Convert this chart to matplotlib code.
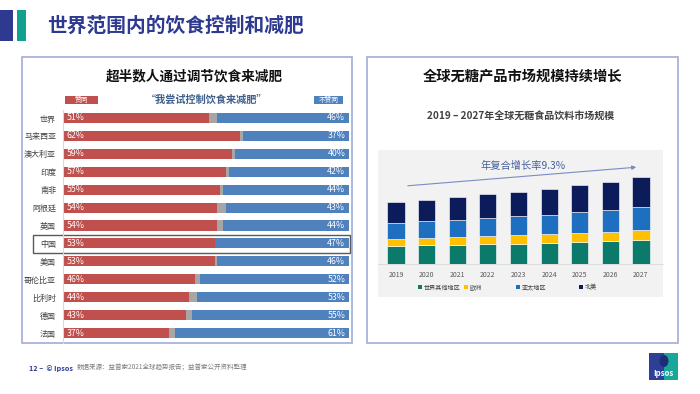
import matplotlib
matplotlib.use('Agg')
import matplotlib.pyplot as plt
from matplotlib.patches import Rectangle, FancyArrowPatch, Ellipse

plt.rcParams['font.family'] = ['Noto Sans CJK SC', 'DejaVu Sans']

# ---------------- data ----------------
countries = ['世界', '马来西亚', '澳大利亚', '印度', '南非', '阿根廷', '英国',
             '中国', '美国', '哥伦比亚', '比利时', '德国', '法国']
agree = [51, 62, 59, 57, 55, 54, 54, 53, 53, 46, 44, 43, 37]
disagree = [46, 37, 40, 42, 44, 43, 44, 47, 46, 52, 53, 55, 61]

years = ['2019', '2020', '2021', '2022', '2023', '2024', '2025', '2026', '2027']
rest_world = [18.0, 18.7, 19.3, 20.3, 20.5, 21.3, 22.0, 22.7, 23.7]
europe = [7.0, 7.0, 7.3, 7.7, 8.3, 8.3, 8.7, 9.3, 10.0]
asia_pac = [16.3, 17.3, 17.3, 18.3, 19.0, 19.7, 21.0, 22.0, 23.7]
north_am = [20.7, 21.0, 22.7, 23.7, 24.7, 25.7, 27.0, 28.3, 29.3]
region_names = ['世界其他地区', '欧洲', '亚太地区', '北美']

# ---------------- figure helpers ----------------
W, H = 700, 394
fig = plt.figure(figsize=(7, 3.94), dpi=100)
fig.patch.set_facecolor('white')

def fx(x):
    return x / W

def fy(y):
    return 1 - y / H

def rect(x0, y0, x1, y1, **kw):
    r = Rectangle((fx(x0), fy(y1)), (x1 - x0) / W, (y1 - y0) / H,
                  transform=fig.transFigure, **kw)
    fig.add_artist(r)
    return r

def text(x, y, s, **kw):
    return fig.text(fx(x), fy(y), s, **kw)

# ---------------- header ----------------
rect(0, 10, 13, 41, color='#2e3a8f', lw=0)
rect(17, 10, 26, 41, color='#12a091', lw=0)
text(47, 26, '世界范围内的饮食控制和减肥', fontsize=14.2, fontweight='bold',
     color='#2e3a8f', va='center', ha='left')

# panels
rect(22, 57, 352, 343, fill=False, ec='#a3acd8', lw=1.2)
rect(367, 57, 678, 343, fill=False, ec='#a3acd8', lw=1.2)

# ---------------- left panel ----------------
text(194, 76, '超半数人通过调节饮食来减肥', fontsize=9.8, fontweight='bold',
     color='#111111', ha='center', va='center')
rect(65, 96, 98, 104, color='#c0504d', lw=0)
text(81.5, 100, '赞同', fontsize=4.8, color='white', ha='center', va='center')
rect(314, 96, 343, 104, color='#4f81bd', lw=0)
text(328.5, 100, '不赞同', fontsize=4.8, color='white', ha='center', va='center')
text(207, 100, '“我尝试控制饮食来减肥”', fontsize=7.3, fontweight='bold',
     color='#3e5f8c', ha='center', va='center')

axL = fig.add_axes([fx(63), fy(342), (349 - 63) / W, (342 - 109) / H])
axL.set_facecolor('none')
ypos = list(range(len(countries)))
neutral = [100 - a - d for a, d in zip(agree, disagree)]
bh = 0.56
axL.barh(ypos, agree, height=bh, color='#c0504d', lw=0)
axL.barh(ypos, neutral, left=agree, height=bh, color='#a6a6a6', lw=0)
axL.barh(ypos, disagree, left=[100 - d for d in disagree], height=bh,
         color='#4f81bd', lw=0)
for i, (a, d) in enumerate(zip(agree, disagree)):
    axL.text(1.3, i, f'{a}%', color='white', fontsize=6.3, va='center', ha='left')
    axL.text(98.7, i, f'{d}%', color='white', fontsize=6.3, va='center', ha='right')
axL.set_xlim(0, 100)
axL.set_ylim(len(countries) - 0.5, -0.5)
axL.set_yticks(ypos)
axL.set_yticklabels(countries, fontsize=5.8, color='#404040')
axL.tick_params(axis='y', length=0, pad=5)
axL.set_xticks([])
for s in axL.spines.values():
    s.set_visible(False)

# separator line and China highlight
fig.add_artist(plt.Line2D([fx(62.5), fx(62.5)], [fy(110), fy(343)],
                          transform=fig.transFigure, color='#d9d9d9', lw=0.8))
rect(33, 235, 350, 253, fill=False, ec='#5a5a5a', lw=1.0)

# ---------------- right panel ----------------
text(522, 76, '全球无糖产品市场规模持续增长', fontsize=10.3, fontweight='bold',
     color='#111111', ha='center', va='center')
text(521, 117, '2019 – 2027年全球无糖食品饮料市场规模', fontsize=7.2,
     fontweight='bold', color='#404040', ha='center', va='center')

rect(378, 150, 663, 297, color='#f2f2f2', lw=0, zorder=-1)

axR = fig.add_axes([fx(378), fy(264), (663 - 378) / W, (264 - 150) / H])
axR.set_facecolor('none')
xs = list(range(len(years)))
colors = ['#0b7a6b', '#ffc000', '#1f6fc0', '#0c1c5a']
bottom = [0.0] * len(years)
for vals, c in zip([rest_world, europe, asia_pac, north_am], colors):
    axR.bar(xs, vals, bottom=bottom, width=0.56, color=c, ec='white', lw=0.4)
    bottom = [b + v for b, v in zip(bottom, vals)]
axR.set_xlim(-0.588, 8.72)
axR.set_ylim(0, 114)
axR.set_xticks(xs)
axR.set_xticklabels(years, fontsize=5, color='#595959')
axR.tick_params(axis='x', length=0, pad=5)
axR.set_yticks([])
for k, s in axR.spines.items():
    s.set_visible(k == 'bottom')
axR.spines['bottom'].set_color('#d9d9d9')
axR.spines['bottom'].set_linewidth(0.6)

# legend
leg_x = [420, 466, 518, 581]
for lx, c, nm in zip(leg_x, colors, region_names):
    rect(lx - 2, 285, lx + 2, 289, color=c, lw=0)
    text(lx + 4, 287.5, nm, fontsize=4.4, color='#404040', ha='left', va='center')

# CAGR arrow
fig.add_artist(FancyArrowPatch((fx(405), fy(186)), (fx(639), fy(167)),
                               transform=fig.transFigure, arrowstyle='-|>',
                               mutation_scale=6, color='#7b8bc4', lw=0.8))
text(523, 166, '年复合增长率9.3%', fontsize=7.4, color='#44609a',
     ha='center', va='center')

# ---------------- footer ----------------
text(29, 368, '12 –  © Ipsos', fontsize=5.2, fontweight='bold', color='#2e3a8f',
     ha='left', va='center')
text(77, 368, '数据来源：益普索2021全球趋势报告；益普索公开资料整理', fontsize=4.7,
     color='#7f7f7f', ha='left', va='center')

# Ipsos logo
rect(649, 353, 664, 380, color='#2d3f96', lw=0)
rect(664, 353, 678, 380, color='#18a899', lw=0)
fig.add_artist(Ellipse((fx(664), fy(361)), 9 / W, 12 / H, transform=fig.transFigure,
                       color='#1f2d78', lw=0))
text(663.5, 373.5, 'Ipsos', fontsize=5.6, fontweight='bold', color='white',
     ha='center', va='center')

fig.savefig('out.png', dpi=100)
